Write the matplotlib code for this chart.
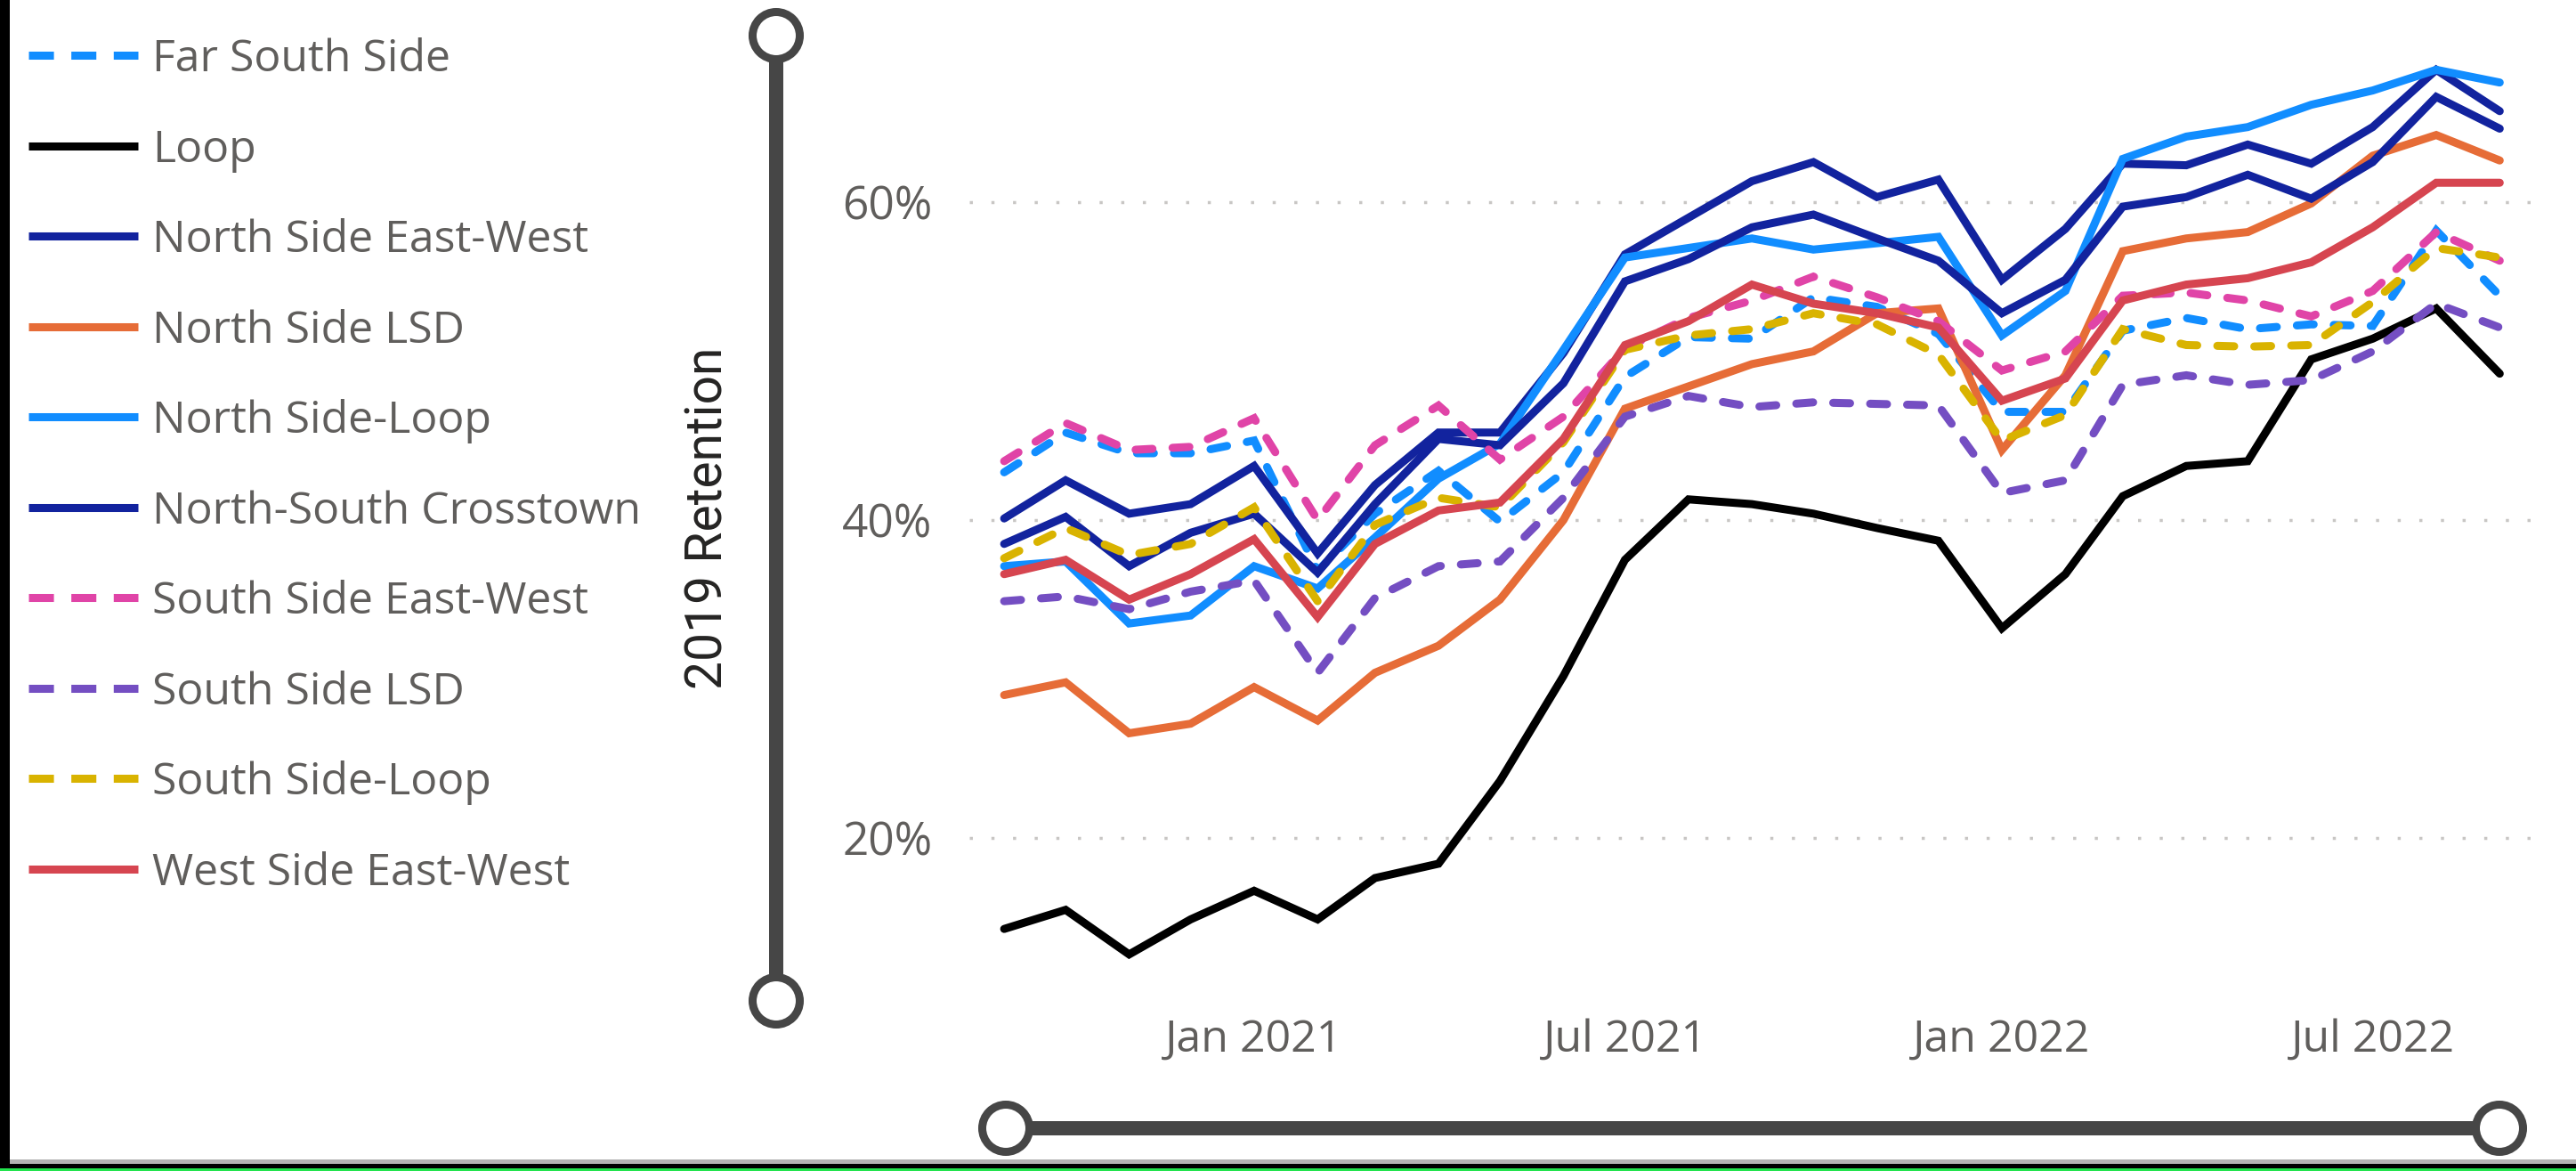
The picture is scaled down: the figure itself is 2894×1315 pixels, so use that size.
import matplotlib
matplotlib.use('Agg')
import matplotlib.pyplot as plt
import matplotlib.dates as mdates
from matplotlib.patches import Circle, Rectangle
from matplotlib.lines import Line2D
from matplotlib.ticker import FuncFormatter
import pandas as pd

W, H = 2894, 1315

# meses de set/2020 a set/2022
meses = pd.date_range('2020-09-01', '2022-09-01', freq='MS')

# retencao em relacao a 2019 (%)
far_south_side = [43.0, 45.5, 44.2, 44.2, 45.0, 36.8, 40.4, 43.1, 39.9, 43.0, 49.0, 51.5, 51.4,
                  54.0, 53.4, 51.7, 46.8, 46.8, 51.9, 52.7, 52.0, 52.3, 52.2, 58.2, 54.1]
loop = [14.3, 15.5, 12.7, 14.9, 16.7, 14.9, 17.5, 18.4, 23.6, 30.2, 37.5, 41.3, 41.0,
        40.4, 39.5, 38.7, 33.2, 36.6, 41.5, 43.4, 43.7, 50.1, 51.4, 53.3, 49.2]
north_side_east_west = [40.1, 42.5, 40.4, 41.0, 43.4, 37.9, 42.2, 45.5, 45.5, 50.5, 56.7, 59.0, 61.3,
                        62.5, 60.3, 61.4, 55.1, 58.3, 62.4, 62.3, 63.6, 62.4, 64.7, 68.3, 65.7]
north_side_lsd = [29.0, 29.8, 26.6, 27.2, 29.5, 27.4, 30.4, 32.1, 35.0, 40.0, 47.0, 48.4, 49.8,
                  50.6, 53.0, 53.3, 44.4, 49.1, 56.9, 57.7, 58.1, 59.9, 62.9, 64.2, 62.6]
north_side_loop = [37.1, 37.4, 33.5, 34.0, 37.1, 35.7, 38.9, 42.6, 44.8, 50.7, 56.5, 57.1, 57.7,
                   57.0, 57.4, 57.8, 51.6, 54.4, 62.7, 64.1, 64.7, 66.1, 67.0, 68.3, 67.5]
north_south_crosstown = [38.5, 40.2, 37.1, 39.2, 40.4, 36.7, 41.0, 45.1, 44.7, 48.6, 55.0, 56.4, 58.4,
                         59.2, 57.7, 56.3, 53.0, 55.1, 59.7, 60.3, 61.7, 60.2, 62.5, 66.6, 64.6]
south_side_east_west = [43.7, 46.1, 44.4, 44.6, 46.4, 40.0, 44.7, 47.2, 43.8, 46.5, 50.8, 52.7, 53.8,
                        55.3, 54.0, 52.5, 49.4, 50.6, 54.1, 54.3, 53.8, 52.8, 54.4, 58.1, 56.3]
south_side_lsd = [34.9, 35.2, 34.4, 35.5, 36.2, 30.4, 35.1, 37.1, 37.4, 41.4, 46.5, 47.8, 47.1,
                  47.4, 47.3, 47.2, 41.7, 42.5, 48.5, 49.1, 48.5, 48.8, 50.6, 53.6, 52.1]
south_side_loop = [37.6, 39.5, 37.8, 38.5, 40.8, 34.9, 39.7, 41.4, 40.8, 44.9, 50.7, 51.6, 52.0,
                   53.0, 52.3, 50.4, 45.0, 46.6, 52.0, 51.0, 50.9, 51.0, 53.7, 57.1, 56.5]
west_side_east_west = [36.6, 37.5, 35.0, 36.6, 38.8, 33.9, 38.5, 40.6, 41.1, 45.1, 51.0, 52.5, 54.8,
                       53.6, 53.0, 52.1, 47.5, 48.9, 53.8, 54.8, 55.2, 56.2, 58.4, 61.2, 61.2]

nomes = ['Far South Side', 'Loop', 'North Side East-West', 'North Side LSD', 'North Side-Loop',
         'North-South Crosstown', 'South Side East-West', 'South Side LSD', 'South Side-Loop',
         'West Side East-West']
valores = [far_south_side, loop, north_side_east_west, north_side_lsd, north_side_loop,
           north_south_crosstown, south_side_east_west, south_side_lsd, south_side_loop,
           west_side_east_west]
cores = ['#118DFF', '#000000', '#12239E', '#E66C37', '#118DFF',
         '#12239E', '#E044A7', '#744EC2', '#D9B300', '#D64550']
tracejado = [True, False, False, False, False, False, True, True, True, False]

ticks_x = pd.to_datetime(['2021-01-01', '2021-07-01', '2022-01-01', '2022-07-01'])
ticks_y = [20, 40, 60]

plt.rcParams['font.family'] = ['Open Sans', 'DejaVu Sans']
CINZA_TEXTO = '#605E5C'
CINZA_SLIDER = '#464646'
LW = 6.5  # ~9 px

fig = plt.figure(figsize=(W / 100, H / 100), dpi=100)

# camada de fundo em pixels: bordas, legenda, sliders
deco = fig.add_axes([0, 0, 1, 1])
deco.set_xlim(0, W)
deco.set_ylim(H, 0)
deco.axis('off')

deco.add_patch(Rectangle((0, 1302), W, 4.5, color='#B4B4B4', lw=0))
deco.add_patch(Rectangle((0, 1306.5), W, 5.2, color='black', lw=0))
deco.add_patch(Rectangle((0, 1311.5), W, 4, color='#22E34D', lw=0))
deco.add_patch(Rectangle((0, 0), 10.5, 1311.5, color='black', lw=0))

# legenda manual
for k, (nome, cor, tr) in enumerate(zip(nomes, cores, tracejado)):
    y = 62 + 101.5 * k
    ls = (0, (28 / 9, 19.5 / 9)) if tr else '-'
    deco.add_line(Line2D([32, 155], [y, y], lw=LW, color=cor, linestyle=ls,
                         solid_capstyle='butt', dash_capstyle='butt'))
    deco.text(171, y + 18, nome, ha='left', va='baseline', fontsize=36, color=CINZA_TEXTO)

deco.text(796, 582, '2019 Retention', rotation=90, ha='center', va='center',
          fontsize=41, color='#252423', family='Roboto')


def slider(x0, y0, x1, y1):
    if x0 == x1:
        deco.add_patch(Rectangle((x0 - 8, y0), 16, y1 - y0, color=CINZA_SLIDER, lw=0))
    else:
        deco.add_patch(Rectangle((x0, y0 - 8), x1 - x0, 16, color=CINZA_SLIDER, lw=0))
    for cx, cy in [(x0, y0), (x1, y1)]:
        deco.add_patch(Circle((cx, cy), 26.5, facecolor='white', edgecolor=CINZA_SLIDER, lw=LW))


slider(872, 40, 872, 1124)
slider(1130, 1267, 2808, 1267)

# grafico principal
ax = fig.add_axes([1089 / W, 1 - 1120 / H, (2844 - 1089) / W, (1120 - 48) / H])
ax.set_facecolor('none')
for nome, v, cor, tr in zip(nomes, valores, cores, tracejado):
    if tr:
        ax.plot(meses, v, color=cor, lw=LW, linestyle=(0, (2.1, 2.5)),
                dash_capstyle='round', dash_joinstyle='miter')
    else:
        ax.plot(meses, v, color=cor, lw=LW, solid_capstyle='round', solid_joinstyle='miter')

ax.set_ylim(10, 70)
ax.set_xlim(meses[0] - pd.Timedelta(days=17), meses[-1] + pd.Timedelta(days=15.5))
ax.set_yticks(ticks_y)
ax.yaxis.set_major_formatter(FuncFormatter(lambda v, p: f'{v:.0f}%'))
ax.set_xticks(ticks_x)
ax.xaxis.set_major_formatter(mdates.DateFormatter('%b %Y'))
ax.grid(axis='y', color='#C8C6C4', linestyle=(0, (1, 6)), linewidth=2.5)
ax.grid(axis='x', visible=False)
ax.set_axisbelow(True)
for s in ax.spines.values():
    s.set_visible(False)
ax.tick_params(axis='y', length=0, labelsize=37, labelcolor=CINZA_TEXTO, pad=30)
ax.tick_params(axis='x', length=0, labelsize=36, labelcolor=CINZA_TEXTO, pad=17)

fig.savefig('out.png', dpi=100)
